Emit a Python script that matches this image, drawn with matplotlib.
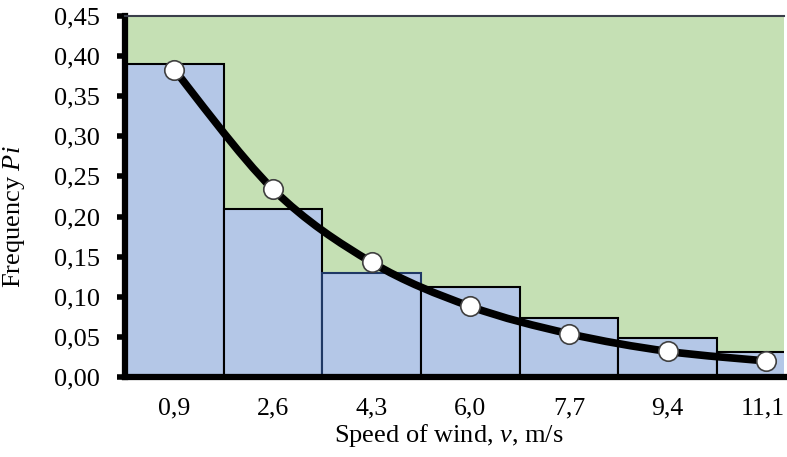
import numpy as np
import matplotlib
matplotlib.use("Agg")
import matplotlib.pyplot as plt
import matplotlib.transforms as mtransforms
from matplotlib.path import Path
from matplotlib.patches import PathPatch

# ---- data ----
categories = ["0,9", "2,6", "4,3", "6,0", "7,7", "9,4", "11,1"]
bar_freq = [0.39, 0.21, 0.13, 0.112, 0.073, 0.049, 0.031]
fit_freq = [0.383, 0.234, 0.143, 0.088, 0.054, 0.032, 0.020]
y_ticks = [0.00, 0.05, 0.10, 0.15, 0.20, 0.25, 0.30, 0.35, 0.40, 0.45]
y_tick_labels = ["0,00", "0,05", "0,10", "0,15", "0,20", "0,25", "0,30", "0,35", "0,40", "0,45"]

plt.rcParams['font.family'] = ['Liberation Serif', 'DejaVu Serif']
plt.rcParams['mathtext.fontset'] = 'custom'
plt.rcParams['mathtext.rm'] = 'Liberation Serif'
plt.rcParams['mathtext.it'] = 'Liberation Serif:italic'

fig = plt.figure(figsize=(7.87, 4.57), dpi=100)
ax = fig.add_axes([125/787, 80/457, 659/787, 361/457])
ax.set_facecolor('#C5E0B4')

x = np.arange(len(categories))
edgecols = ['black'] * len(categories)
edgecols[2] = '#1F3864'
ax.bar(x, bar_freq, width=1.0, color='#B4C7E7', edgecolor=edgecols, linewidth=1.5, zorder=2)

# smooth curve (Catmull-Rom style Bezier through the points, like Excel smoothing)
pts = np.column_stack([x, fit_freq]).astype(float)
verts = [tuple(pts[0])]
codes = [Path.MOVETO]
n = len(pts)
for i in range(n - 1):
    p0 = pts[i - 1] if i > 0 else pts[i]
    p1 = pts[i]
    p2 = pts[i + 1]
    p3 = pts[i + 2] if i + 2 < n else pts[i + 1]
    c1 = p1 + (p2 - p0) / 6.0
    c2 = p2 - (p3 - p1) / 6.0
    verts += [tuple(c1), tuple(c2), tuple(p2)]
    codes += [Path.CURVE4, Path.CURVE4, Path.CURVE4]
ax.add_patch(PathPatch(Path(verts, codes), facecolor='none', edgecolor='black',
                       linewidth=5.5, capstyle='round', zorder=3))
ax.plot(x, fit_freq, linestyle='none', marker='o', markersize=14,
        markerfacecolor='white', markeredgecolor='#404040', markeredgewidth=1.2, zorder=4)

ax.set_xlim(-0.5, 6.18)
ax.set_ylim(0, 0.45)
ax.set_xticks(x)
ax.set_xticklabels(categories)
ax.set_yticks(y_ticks)
ax.set_yticklabels(y_tick_labels)

for s in ['left', 'bottom']:
    ax.spines[s].set_linewidth(4.5)
    ax.spines[s].set_color('black')
ax.spines['top'].set_linewidth(1.5)
ax.spines['top'].set_color('#3a3f4a')
ax.spines['right'].set_visible(False)

ax.tick_params(axis='y', direction='out', length=6, width=4, pad=12, labelsize=19, color='black')
ax.tick_params(axis='x', direction='out', length=2, width=3, pad=13, labelsize=18.5, color='black')
# nudge the last category label a few pixels left so it stays inside the figure
last = ax.get_xticklabels()[-1]
last.set_transform(last.get_transform() + mtransforms.ScaledTranslation(-4/100, 0, fig.dpi_scale_trans))

ax.set_ylabel("Frequency $\\mathit{Pi}$", fontsize=19)
ax.set_xlabel("Speed of wind, $\\mathit{v}$, m/s", fontsize=19)
ax.yaxis.set_label_coords(-0.148, 0.443)
ax.xaxis.set_label_coords(0.492, -0.125)

fig.savefig("out.png", dpi=100)
